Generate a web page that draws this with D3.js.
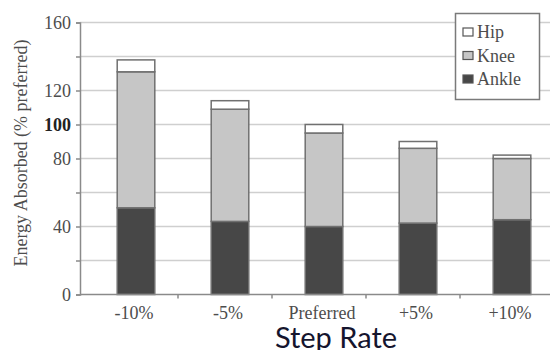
<!DOCTYPE html>
<html>
<head>
<meta charset="utf-8">
<script src="https://cdn.jsdelivr.net/npm/d3@7"></script>
<style>
  html, body { margin: 0; padding: 0; background: #fff; }
  svg { display: block; }
</style>
</head>
<body>
<svg id="chart" width="550" height="350"></svg>
<script>
const categories = ["-10%", "-5%", "Preferred", "+5%", "+10%"];
const ankle = [51, 43, 40, 42, 44];
const knee = [80, 66, 55, 44, 36];
const hip = [7, 5, 5, 4, 2];
const seriesNames = ["Ankle", "Knee", "Hip"];
const gridValues = [0, 20, 40, 60, 80, 100, 120, 140, 160];
const yTickLabels = [0, 40, 80, 100, 120, 160];
const yTitle = "Energy Absorbed (% preferred)";
const xTitle = "Step Rate";

const colors = { Ankle: "#474747", Knee: "#c6c6c6", Hip: "#ffffff" };
const serif = "'Liberation Serif', 'Times New Roman', serif";
const textGray = "#4d4d4d";

const svg = d3.select("#chart");
const axisLeft = 80, axisRight = 550;

const y = d3.scaleLinear().domain([0, 160]).range([294.5, 22.5]);
const x = d3.scaleBand().domain(categories).range([89, 559]).paddingInner(0.6).paddingOuter(0.3);

// gridlines
svg.append("g").selectAll("line").data(gridValues.filter(v => v > 0)).join("line")
  .attr("x1", axisLeft).attr("x2", axisRight)
  .attr("y1", d => y(d)).attr("y2", d => y(d))
  .attr("stroke", "#cfcfcf").attr("stroke-width", 1.5);

// y axis
const yAxis = d3.axisLeft(y).tickValues(gridValues).tickSize(4).tickFormat("");
const gy = svg.append("g").attr("transform", `translate(${axisLeft},0)`).call(yAxis);
gy.select(".domain").attr("stroke", "#8a8a8a").attr("stroke-width", 1.5);
gy.selectAll(".tick line").attr("stroke", "#8a8a8a").attr("stroke-width", 1.5);

svg.append("g").selectAll("text").data(yTickLabels).join("text")
  .attr("x", 71).attr("y", d => y(d)).attr("dy", "0.34em")
  .attr("text-anchor", "end")
  .attr("font-family", serif).attr("font-size", 18)
  .attr("font-weight", d => d === 100 ? "bold" : "normal")
  .attr("fill", d => d === 100 ? "#222" : textGray)
  .text(d => d);

// stacked data
const rows = categories.map((c, i) => ({ cat: c, Ankle: ankle[i], Knee: knee[i], Hip: hip[i] }));
const stack = d3.stack().keys(seriesNames)(rows);

svg.append("g").selectAll("g").data(stack).join("g")
  .attr("fill", d => colors[d.key])
  .selectAll("rect").data(d => d).join("rect")
  .attr("x", d => x(d.data.cat))
  .attr("width", x.bandwidth())
  .attr("y", d => y(d[1]))
  .attr("height", d => y(d[0]) - y(d[1]))
  .attr("stroke", "#707070").attr("stroke-width", 1.5);

// x axis
svg.append("line").attr("x1", axisLeft).attr("x2", axisRight)
  .attr("y1", y(0)).attr("y2", y(0))
  .attr("stroke", "#8a8a8a").attr("stroke-width", 1.5);
svg.append("g").selectAll("line").data(categories.slice(0, -1)).join("line")
  .attr("x1", d => x(d) + x.bandwidth() / 2 + 42)
  .attr("x2", d => x(d) + x.bandwidth() / 2 + 42)
  .attr("y1", y(0)).attr("y2", y(0) + 4)
  .attr("stroke", "#8a8a8a").attr("stroke-width", 1.5);

svg.append("g").selectAll("text").data(categories).join("text")
  .attr("x", d => x(d) + x.bandwidth() / 2 - 2)
  .attr("y", 319)
  .attr("text-anchor", "middle")
  .attr("font-family", serif).attr("font-size", 18)
  .attr("fill", textGray)
  .text(d => d);

// axis titles
svg.append("text")
  .attr("transform", "translate(27,153) rotate(-90)")
  .attr("text-anchor", "middle")
  .attr("font-family", serif).attr("font-size", 18)
  .attr("fill", textGray)
  .text(yTitle);

svg.append("text")
  .attr("x", 336).attr("y", 348)
  .attr("text-anchor", "middle")
  .attr("font-family", "Lato, 'Open Sans', sans-serif").attr("font-size", 29)
  .attr("fill", "#15152e")
  .text(xTitle);

// legend
const legend = svg.append("g");
legend.append("rect").attr("x", 455.5).attr("y", 13.5).attr("width", 84).attr("height", 86)
  .attr("fill", "#fff").attr("stroke", "#7a7a7a").attr("stroke-width", 1.5);
const legendItems = ["Hip", "Knee", "Ankle"];
const li = legend.selectAll("g.item").data(legendItems).join("g")
  .attr("transform", (d, i) => `translate(463,${32 + i * 23.5})`);
li.append("rect").attr("x", 0).attr("y", -4).attr("width", 10).attr("height", 8)
  .attr("fill", d => colors[d]).attr("stroke", "#555").attr("stroke-width", 1.2);
li.append("text").attr("x", 14).attr("y", 0).attr("dy", "0.34em")
  .attr("font-family", serif).attr("font-size", 18).attr("fill", textGray)
  .text(d => d);
</script>
</body>
</html>
